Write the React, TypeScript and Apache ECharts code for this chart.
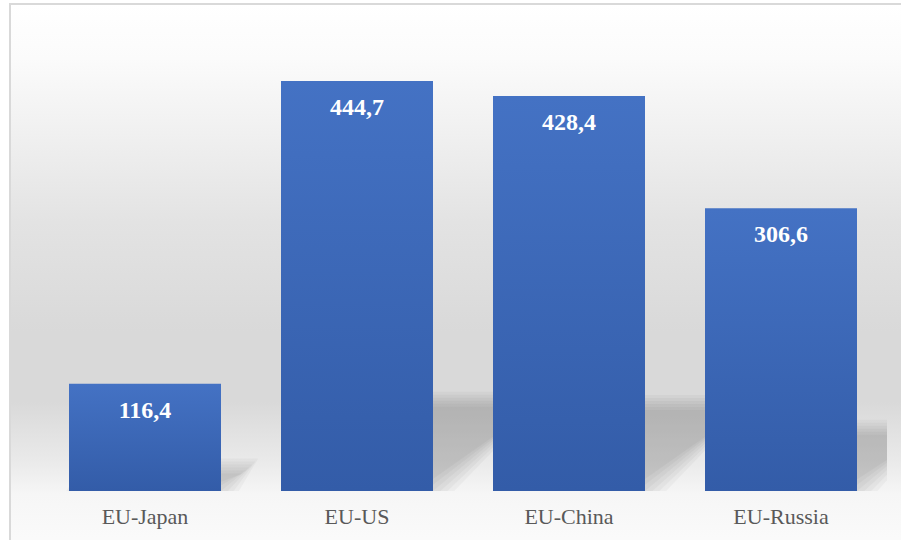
import React, { useEffect, useRef } from "react";
import * as echarts from "echarts";

const categories: string[] = ["EU-Japan", "EU-US", "EU-China", "EU-Russia"];
const values: number[] = [116.4, 444.7, 428.4, 306.6];

const SERIF = "Times New Roman, Liberation Serif, DejaVu Serif, serif";

export default function App() {
  const ref = useRef<HTMLDivElement | null>(null);

  useEffect(() => {
    if (!ref.current) return;
    const chart = echarts.init(ref.current, undefined, { renderer: "svg" });

    const option: any = {
      animation: false,
      backgroundColor: "#ffffff",
      textStyle: { fontFamily: SERIF },
      graphic: [
        {
          type: "rect",
          z: -100,
          silent: true,
          shape: { x: 10, y: 4, width: 900, height: 545 },
          style: {
            fill: new echarts.graphic.LinearGradient(0, 0, 0, 1, [
              { offset: 0, color: "#ffffff" },
              { offset: 0.1, color: "#fbfbfb" },
              { offset: 0.2, color: "#f3f3f3" },
              { offset: 0.4, color: "#e3e3e3" },
              { offset: 0.6, color: "#d9d9d9" },
              { offset: 0.73, color: "#d9d9d9" },
              { offset: 0.84, color: "#eaeaea" },
              { offset: 0.9, color: "#f6f6f6" },
              { offset: 1, color: "#fbfbfb" },
            ]),
            stroke: "#d9d9d9",
            lineWidth: 2,
          },
        },
      ],
      grid: { left: 39, right: 14, top: 30, bottom: 49, containLabel: false },
      xAxis: {
        type: "category",
        data: categories,
        axisTick: { show: false },
        axisLine: { show: false },
        axisLabel: {
          color: "#595959",
          fontFamily: SERIF,
          fontSize: 22,
          margin: 14,
        },
      },
      yAxis: {
        type: "value",
        min: 0,
        max: 500,
        show: false,
        splitLine: { show: false },
      },
      series: [
        {
          type: "custom",
          z: 1,
          clip: true,
          silent: true,
          data: values.map((v, i) => [i, v]),
          renderItem: (params: any, api: any) => {
            const idx = api.value(0);
            const v = api.value(1);
            const base = api.coord([idx, 0]);
            const top = api.coord([idx, v]);
            const half = 76;
            const barH = base[1] - top[1];
            const h = barH * 0.22;
            const sh = h * 1.2;
            const x0 = base[0] - half;
            const x1 = base[0] + half;
            const yb = base[1];
            const layers = [9, 6, 3, 0, -3, -6];
            return {
              type: "group",
              children: layers.map((e) => ({
                type: "polygon",
                shape: {
                  points: [
                    [x0 - e, yb + e],
                    [x1 + e * 1.4, yb + e],
                    [x1 + sh + e, yb - h - e],
                    [x0 + sh - e, yb - h - e],
                  ],
                },
                style: { fill: "rgba(0,0,0,0.032)" },
              })),
            };
          },
        },
        {
          type: "bar",
          z: 2,
          data: values,
          barWidth: 152,
          itemStyle: {
            color: new echarts.graphic.LinearGradient(0, 0, 0, 1, [
              { offset: 0, color: "#4472c4" },
              { offset: 1, color: "#335ca8" },
            ]),
          },
          label: {
            show: true,
            position: "insideTop",
            distance: 14,
            color: "#ffffff",
            fontFamily: SERIF,
            fontWeight: "bold",
            fontSize: 24,
            formatter: (p: any) => String(p.value).replace(".", ","),
          },
        },
      ],
    };

    chart.setOption(option);
    return () => {
      chart.dispose();
    };
  }, []);

  return (
    <div
      ref={ref}
      style={{ position: "absolute", left: 0, top: 0, width: 901, height: 540 }}
    />
  );
}
